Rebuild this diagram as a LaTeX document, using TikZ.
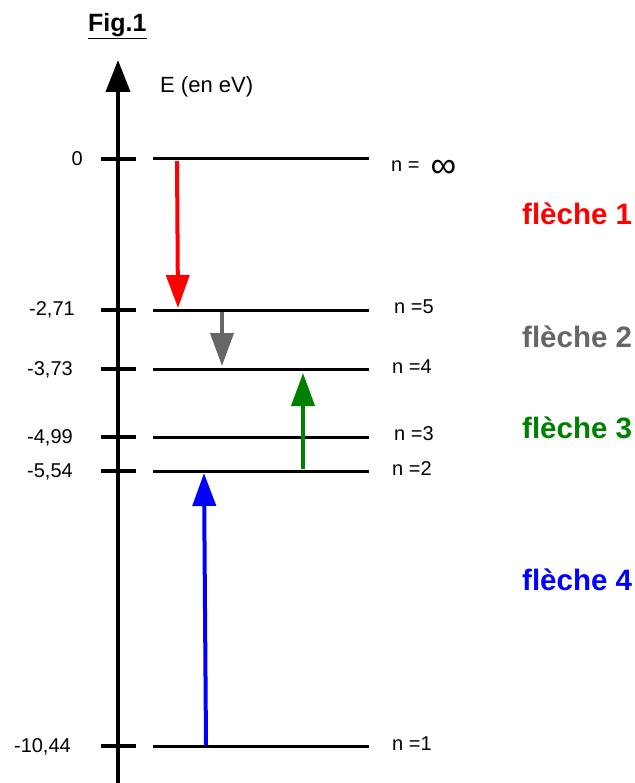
\documentclass[tikz,border=0pt]{standalone}
\usepackage{fontspec}
\setmainfont{Liberation Sans}
\usetikzlibrary{arrows.meta}
\definecolor{cred}{HTML}{FF0000}
\definecolor{cgray}{HTML}{666666}
\definecolor{cgreen}{HTML}{008000}
\definecolor{cblue}{HTML}{0000FF}
\begin{document}
\begin{tikzpicture}[x=1pt,y=-1pt,
  level/.style={line width=3pt,black},
  tick/.style={line width=3.5pt,black},
  val/.style={anchor=east,inner sep=0pt,font=\fontsize{20}{24}\selectfont},
  nlab/.style={anchor=west,inner sep=0pt,font=\fontsize{20}{24}\selectfont},
  flab/.style={anchor=west,inner sep=0pt,font=\fontsize{29.5}{34}\selectfont\bfseries},
  trans/.style={line width=4pt,-{Triangle[length=33pt,width=23pt]}}]
\useasboundingbox (0,0) rectangle (634,783);
% title
\node[inner sep=0pt,anchor=base west,font=\fontsize{25}{28}\selectfont\bfseries] (fig) at (88,32) {\underline{Fig.1}};
% axis
\coordinate (axb) at (118,783);
\coordinate (axt) at (118,60);
\draw[line width=4pt,-{Triangle[length=32pt,width=24pt]}] (axb) -- (axt);
\node[anchor=west,inner sep=0pt,font=\fontsize{22}{26}\selectfont] (E) at (160,87) {E (en eV)};
% levels
\foreach \nm/\y in {L0/159,L5/310,L4/369,L3/437,L2/471,L1/746}{
  \coordinate (\nm t1) at (101,\y);
  \coordinate (\nm t2) at (136,\y);
  \coordinate (\nm a) at (153,\y);
  \coordinate (\nm b) at (369,\y);
  \draw[tick] (\nm t1) -- (\nm t2);
  \draw[level] (\nm a) -- (\nm b);
}
% energy values
\node[val] (v0) at (83,159) {0};
\node[val] (v5) at (75,310) {-2,71};
\node[val] (v4) at (73,370) {-3,73};
\node[val] (v3) at (73,438) {-4,99};
\node[val] (v2) at (73,472) {-5,54};
\node[val] (v1) at (71,747) {-10,44};
% n labels
\node[nlab] (n0) at (391,169) {n =\ \ \raisebox{-6pt}{\fontsize{36}{36}\selectfont ∞}};
\node[nlab] (n5) at (394,307) {n =5};
\node[nlab] (n4) at (392,367) {n =4};
\node[nlab] (n3) at (394,434) {n =3};
\node[nlab] (n2) at (392,469) {n =2};
\node[nlab] (n1) at (392,744) {n =1};
% transitions
\coordinate (r1) at (177,161);
\coordinate (r2) at (178,308);
\coordinate (g1) at (222,312);
\coordinate (g2) at (222,366);
\coordinate (e1) at (303,469);
\coordinate (e2) at (303,373);
\coordinate (b1) at (206,745);
\coordinate (b2) at (204,473);
\draw[trans,cred] (r1) -- (r2);
\draw[trans,cgray] (g1) -- (g2);
\draw[trans,cgreen] (e1) -- (e2);
\draw[trans,cblue] (b1) -- (b2);
% arrow labels
\node[flab,text=cred] (f1) at (522,214) {flèche 1};
\node[flab,text=cgray] (f2) at (522,337) {flèche 2};
\node[flab,text=cgreen] (f3) at (522,428) {flèche 3};
\node[flab,text=cblue] (f4) at (522,580) {flèche 4};
\end{tikzpicture}
\end{document}
